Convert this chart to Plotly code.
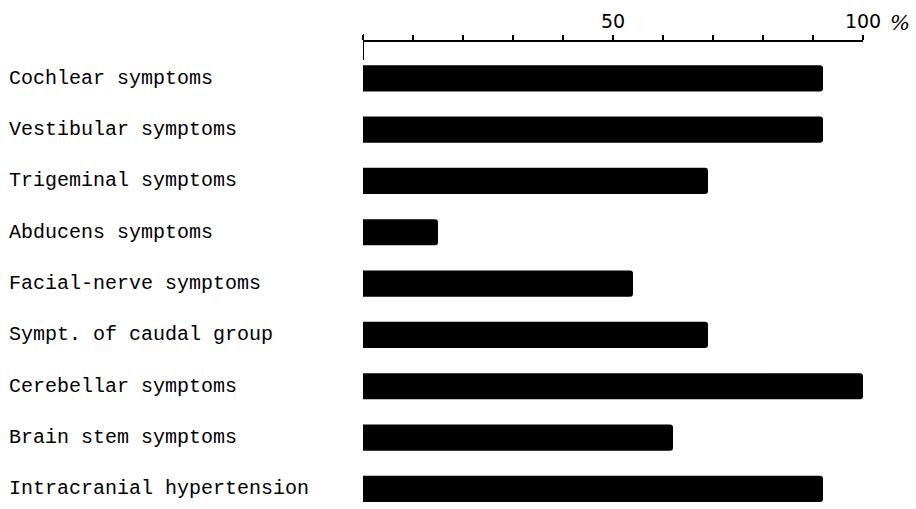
import plotly.graph_objects as go

categories = [
    "Cochlear symptoms",
    "Vestibular symptoms",
    "Trigeminal symptoms",
    "Abducens symptoms",
    "Facial-nerve symptoms",
    "Sympt. of caudal group",
    "Cerebellar symptoms",
    "Brain stem symptoms",
    "Intracranial hypertension",
]
percent = [92, 92, 69, 15, 54, 69, 100, 62, 92]

tick_values = [0, 10, 20, 30, 40, 50, 60, 70, 80, 90, 100]
tick_labels = ["", "", "", "", "", "50", "", "", "", "", "100"]

W, H = 916, 509
M_L, M_R, M_T, M_B = 363, 53, 42, 5
plot_h = H - M_T - M_B
plot_w = W - M_L - M_R

fig = go.Figure(
    go.Bar(
        x=percent,
        y=categories,
        orientation="h",
        width=0.51,
        marker=dict(color="black", line=dict(width=0)),
        hoverinfo="x+y",
    )
)

# category labels, left-aligned at the page edge
for cat in categories:
    fig.add_annotation(
        x=(7 - M_L) / plot_w,
        xref="paper",
        y=cat,
        yref="y",
        text=cat,
        showarrow=False,
        xanchor="left",
        yanchor="middle",
        font=dict(family="Liberation Mono", size=20, color="black"),
    )

# percent sign beside the 100 label
fig.add_annotation(
    x=(900 - M_L) / plot_w,
    xref="paper",
    y=1 + (M_T - 23) / plot_h,
    yref="paper",
    text="<i>%</i>",
    showarrow=False,
    xanchor="center",
    yanchor="middle",
    font=dict(family="DejaVu Serif", size=21, color="black"),
)

# vertical stroke marking the zero of the scale
fig.add_shape(
    type="line",
    xref="x",
    yref="paper",
    x0=0,
    x1=0,
    y0=1 + (M_T - 34) / plot_h,
    y1=1 - (60 - M_T) / plot_h,
    line=dict(color="black", width=2),
)

fig.update_layout(
    width=W,
    height=H,
    margin=dict(l=M_L, r=M_R, t=M_T, b=M_B),
    paper_bgcolor="white",
    plot_bgcolor="white",
    showlegend=False,
    barcornerradius=3,
    xaxis=dict(
        side="top",
        range=[0, 100],
        tickmode="array",
        tickvals=tick_values,
        ticktext=tick_labels,
        ticks="outside",
        ticklen=5,
        tickwidth=1.5,
        tickcolor="black",
        showline=True,
        linecolor="black",
        linewidth=1.5,
        showgrid=False,
        zeroline=False,
        tickfont=dict(family="DejaVu Sans", size=19, color="black"),
    ),
    yaxis=dict(
        range=[8.294, -0.707],
        showticklabels=False,
        showgrid=False,
        zeroline=False,
        showline=False,
        ticks="",
    ),
)

fig.write_html("out.html")
